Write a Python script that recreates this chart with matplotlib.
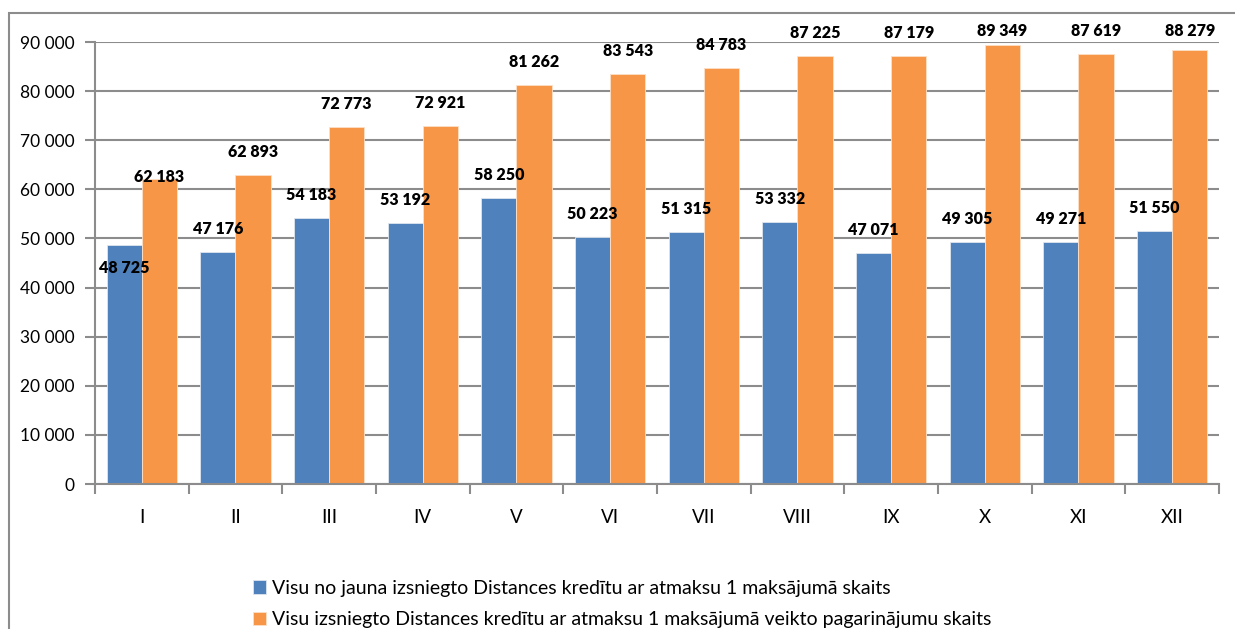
import matplotlib.pyplot as plt
import matplotlib as mpl
import numpy as np
from matplotlib.patches import Rectangle

# data
months = ['I', 'II', 'III', 'IV', 'V', 'VI', 'VII', 'VIII', 'IX', 'X', 'XI', 'XII']
new_loans = [48725, 47176, 54183, 53192, 58250, 50223, 51315, 53332, 47071, 49305, 49271, 51550]
extensions = [62183, 62893, 72773, 72921, 81262, 83543, 84783, 87225, 87179, 89349, 87619, 88279]
labels = ['Visu no jauna izsniegto Distances kredītu ar atmaksu 1 maksājumā skaits',
          'Visu izsniegto Distances kredītu ar atmaksu 1 maksājumā veikto pagarinājumu skaits']

BLUE = '#4F81BD'
ORANGE = '#F79646'
GRID = '#8c8c8c'

plt.rcParams['font.family'] = ['Lato', 'DejaVu Sans']


def fmt(v):
    return f'{v:,}'.replace(',', ' ')


fig = plt.figure(figsize=(12.35, 6.29), dpi=100)
ax = fig.add_axes([0.0769, 0.2305, 0.9101, 0.7027])

# outer chart frame (cut off at right/bottom like the source)
fig.patches.append(Rectangle((9 / 1235, -0.1), 1.2, 1 - 13 / 629 + 0.1,
                             transform=fig.transFigure, fill=False,
                             edgecolor=GRID, linewidth=1.5, clip_on=False))

x = np.arange(len(months))
w = 0.375
b1 = ax.bar(x - w / 2, new_loans, w, color=BLUE, edgecolor='#dfe6f0', linewidth=0.6, label=labels[0])
b2 = ax.bar(x + w / 2, extensions, w, color=ORANGE, edgecolor='#fde0c8', linewidth=0.6, label=labels[1])

ax.set_xlim(-0.5, len(months) - 0.5)
ax.set_ylim(0, 90000)
ax.set_yticks(np.arange(0, 90001, 10000))
ax.set_yticklabels([fmt(v) for v in range(0, 90001, 10000)])
ax.set_xticks(x)
ax.set_xticklabels(months)
ax.set_xticks(np.arange(-0.5, len(months), 1), minor=True)

ax.tick_params(axis='x', which='major', length=0, pad=18, labelsize=13.5, colors='#000000')
ax.tick_params(axis='x', which='minor', length=7, width=1.5, color=GRID)
ax.tick_params(axis='y', length=7, width=1.5, color=GRID, labelsize=12.5, pad=8)

ax.grid(axis='y', color=GRID, linewidth=1.5)
ax.set_axisbelow(True)
for s in ('top', 'right'):
    ax.spines[s].set_visible(False)
for s in ('left', 'bottom'):
    ax.spines[s].set_color(GRID)
    ax.spines[s].set_linewidth(1.5)

# value labels
off = 4700
for i, v in enumerate(new_loans):
    y = v + off
    if i == 0:
        y = 44000
    ax.text(x[i] - w / 2, y, fmt(v), ha='center', va='center',
            fontsize=11.5, fontweight='heavy', clip_on=False)
for i, v in enumerate(extensions):
    y = min(v + off, 92300)
    if i == 0:
        y = 62500
    ax.text(x[i] + w / 2, y, fmt(v), ha='center', va='center',
            fontsize=11.5, fontweight='heavy', clip_on=False)

fig.legend(handles=[b1, b2], labels=labels, loc='upper left',
           bbox_to_anchor=(245 / 1235, 1 - 572 / 629), frameon=False,
           fontsize=14, handlelength=0.7, handleheight=0.7,
           handletextpad=0.3, labelspacing=0.75, borderaxespad=0)

fig.savefig('out.png', dpi=100)
